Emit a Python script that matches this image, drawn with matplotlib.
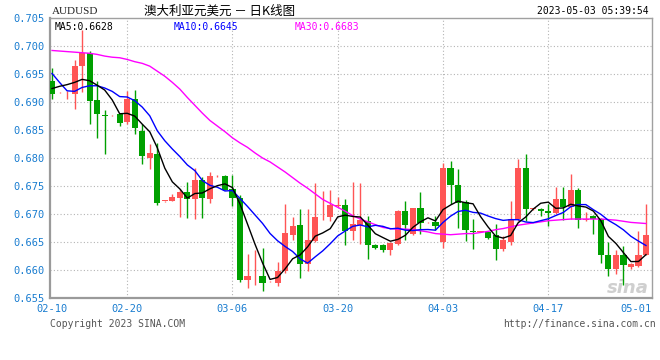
import numpy as np
import pandas as pd
import matplotlib
matplotlib.use('Agg')
from matplotlib import pyplot as plt

# daily bars AUDUSD, 02-10 .. 05-01 (one bar per calendar day, as on the sina chart)
opens = [0.6937, 0.6917, 0.6917, 0.6914, 0.6965, 0.6988, 0.6903, 0.6876, 0.6876, 0.6878,
         0.6864, 0.6906, 0.6848, 0.6800, 0.6807, 0.6723, 0.6724, 0.6729, 0.6739, 0.6726,
         0.6761, 0.6727, 0.6767, 0.6768, 0.6745, 0.6729, 0.6582, 0.6587, 0.6590, 0.6580,
         0.6576, 0.6598, 0.6663, 0.6681, 0.6611, 0.6652, 0.6694, 0.6694, 0.6714, 0.6716,
         0.6669, 0.6681, 0.6688, 0.6645, 0.6645, 0.6635, 0.6647, 0.6706, 0.6665, 0.6710,
         0.6685, 0.6685, 0.6650, 0.6782, 0.6752, 0.6721, 0.6670, 0.6668, 0.6668, 0.6662,
         0.6638, 0.6650, 0.6691, 0.6782, 0.6709, 0.6709, 0.6705, 0.6702, 0.6727, 0.6712,
         0.6743, 0.6690, 0.6697, 0.6691, 0.6627, 0.6602, 0.6627, 0.6605, 0.6608, 0.6626]
highs = [0.6961, 0.6918, 0.6919, 0.6975, 0.7028, 0.6991, 0.6937, 0.6886, 0.6877, 0.6880,
         0.6920, 0.6921, 0.6860, 0.6825, 0.6826, 0.6724, 0.6736, 0.6744, 0.6758, 0.6783,
         0.6766, 0.6775, 0.6769, 0.6769, 0.6770, 0.6734, 0.6629, 0.6635, 0.6640, 0.6581,
         0.6615, 0.6718, 0.6695, 0.6709, 0.6709, 0.6755, 0.6741, 0.6742, 0.6730, 0.6727,
         0.6758, 0.6755, 0.6697, 0.6646, 0.6646, 0.6650, 0.6707, 0.6724, 0.6711, 0.6740,
         0.6686, 0.6697, 0.6791, 0.6795, 0.6780, 0.6725, 0.6691, 0.6669, 0.6668, 0.6682,
         0.6660, 0.6724, 0.6798, 0.6807, 0.6710, 0.6710, 0.6718, 0.6748, 0.6748, 0.6771,
         0.6746, 0.6703, 0.6698, 0.6692, 0.6650, 0.6635, 0.6643, 0.6612, 0.6669, 0.6718]
lows = [0.6905, 0.6916, 0.6905, 0.6887, 0.6917, 0.6860, 0.6835, 0.6807, 0.6875, 0.6858,
        0.6860, 0.6843, 0.6789, 0.6780, 0.6716, 0.6722, 0.6723, 0.6694, 0.6693, 0.6691,
        0.6693, 0.6719, 0.6766, 0.6742, 0.6714, 0.6579, 0.6567, 0.6573, 0.6562, 0.6579,
        0.6572, 0.6595, 0.6653, 0.6586, 0.6599, 0.6650, 0.6690, 0.6688, 0.6713, 0.6645,
        0.6654, 0.6647, 0.6620, 0.6638, 0.6632, 0.6627, 0.6644, 0.6653, 0.6662, 0.6665,
        0.6684, 0.6671, 0.6640, 0.6718, 0.6675, 0.6651, 0.6638, 0.6667, 0.6656, 0.6617,
        0.6634, 0.6644, 0.6688, 0.6688, 0.6708, 0.6696, 0.6679, 0.6700, 0.6690, 0.6691,
        0.6675, 0.6688, 0.6665, 0.6613, 0.6589, 0.6592, 0.6573, 0.6602, 0.6605, 0.6626]
closes = [0.6914, 0.6918, 0.6918, 0.6965, 0.6987, 0.6902, 0.6878, 0.6875, 0.6877, 0.6863,
          0.6906, 0.6853, 0.6803, 0.6809, 0.6720, 0.6724, 0.6731, 0.6740, 0.6727, 0.6761,
          0.6729, 0.6768, 0.6768, 0.6743, 0.6728, 0.6582, 0.6589, 0.6588, 0.6576, 0.6581,
          0.6599, 0.6666, 0.6678, 0.6611, 0.6653, 0.6694, 0.6695, 0.6716, 0.6716, 0.6669,
          0.6682, 0.6690, 0.6644, 0.6639, 0.6635, 0.6649, 0.6706, 0.6681, 0.6710, 0.6684,
          0.6685, 0.6678, 0.6782, 0.6751, 0.6719, 0.6671, 0.6668, 0.6668, 0.6658, 0.6638,
          0.6653, 0.6691, 0.6782, 0.6709, 0.6709, 0.6705, 0.6701, 0.6727, 0.6712, 0.6742,
          0.6690, 0.6691, 0.6691, 0.6626, 0.6602, 0.6627, 0.6609, 0.6611, 0.6627, 0.6663]

# MA30 (history before 02-10 not shown)
ma30 = [0.6992, 0.6991, 0.6990, 0.6989, 0.6988, 0.6987, 0.6985, 0.6982, 0.6980, 0.6979,
        0.6976, 0.6972, 0.6969, 0.6964, 0.6955, 0.6946, 0.6935, 0.6923, 0.6908, 0.6894,
        0.6880, 0.6867, 0.6857, 0.6847, 0.6836, 0.6827, 0.6819, 0.6809, 0.6800, 0.6793,
        0.6784, 0.6775, 0.6765, 0.6755, 0.6746, 0.6736, 0.6726, 0.6719, 0.6712, 0.6705,
        0.6697, 0.6691, 0.6686, 0.6681, 0.6676, 0.6674, 0.6673, 0.6673, 0.6672, 0.6670,
        0.6668, 0.6665, 0.6664, 0.6663, 0.6664, 0.6665, 0.6665, 0.6667, 0.6669, 0.6672,
        0.6674, 0.6677, 0.6680, 0.6682, 0.6684, 0.6686, 0.6688, 0.6689, 0.6690, 0.6691,
        0.6691, 0.6691, 0.6691, 0.6691, 0.6690, 0.6689, 0.6687, 0.6685, 0.6684, 0.6683]
# first MA5 / MA10 points (need closes before 02-10)
ma5_head = [0.6924, 0.6928, 0.6931, 0.6935]
ma10_head = [0.6951, 0.6935, 0.6920, 0.6919, 0.6926, 0.6929, 0.6929, 0.6925, 0.6919]
# values printed in the MA legend
ma_names = ['MA5', 'MA10', 'MA30']
ma_last = [0.6628, 0.6645, 0.6683]

date_ticks = [0, 10, 24, 38, 52, 66, 79.8]
date_labels = ['02-10', '02-20', '03-06', '03-20', '04-03', '04-17', '05-01']
price_ticks = [0.655, 0.660, 0.665, 0.670, 0.675, 0.680, 0.685, 0.690, 0.695, 0.700, 0.705]

RED = '#ff5555'
GREEN = '#00a000'
BLUE_TXT = '#1a7dd0'
MA_COLORS = ['black', '#0000ff', '#ff00ff']

plt.rcParams['font.family'] = ['DejaVu Sans Mono']

o = np.array(opens)
h = np.array(highs)
l = np.array(lows)
c = np.array(closes)
x = np.arange(len(c))

ma5 = pd.Series(c).rolling(5).mean().values
ma5[:len(ma5_head)] = ma5_head
ma10 = pd.Series(c).rolling(10).mean().values
ma10[:len(ma10_head)] = ma10_head

fig = plt.figure(figsize=(6.6, 3.6), dpi=100)
ax = fig.add_axes([50 / 660, 62 / 360, 602 / 660, 280 / 360])

# grid
for t in price_ticks[1:-1]:
    ax.axhline(t, color='#b4b4b4', lw=0.8, ls=(0, (1, 2)), zorder=0)
for t in date_ticks[1:-1]:
    ax.axvline(t, color='#b4b4b4', lw=0.8, ls=(0, (1, 2)), zorder=0)

# candles
up = c >= o
cols = np.where(up, RED, GREEN)
ax.vlines(x, l, h, colors=cols, lw=1, zorder=2)
body = np.maximum(np.abs(c - o), 0.00012)
ax.bar(x, body, bottom=np.minimum(o, c), width=0.82, color=cols, lw=0, zorder=3)

# moving averages
ax.plot(x, ma30, color=MA_COLORS[2], lw=1, zorder=4)
ax.plot(x, ma10, color=MA_COLORS[1], lw=1, zorder=4)
ax.plot(x, ma5, color=MA_COLORS[0], lw=1, zorder=4)

ax.set_xlim(-0.27, 79.8)
ax.set_ylim(0.655, 0.705)
ax.set_yticks(price_ticks)
ax.set_yticklabels(['%.3f' % t for t in price_ticks])
ax.set_xticks(date_ticks)
ax.set_xticklabels(date_labels)
ax.get_xticklabels()[-1].set_ha('right')
ax.tick_params(length=0, labelsize=7.5, colors=BLUE_TXT, pad=4)

for s in ['top', 'right']:
    ax.spines[s].set_color('#a0a0a0')
    ax.spines[s].set_linewidth(1)
for s in ['left', 'bottom']:
    ax.spines[s].set_color('#9a9a9a')
    ax.spines[s].set_linewidth(1.6)

# MA legend inside
for xpos, name, val, col in zip([0.008, 0.206, 0.407], ma_names, ma_last, MA_COLORS):
    ax.text(xpos, 0.985, '%s:%.4f' % (name, val), transform=ax.transAxes, fontsize=7,
            color=col, va='top', ha='left')

# sina watermark
ax.text(0.995, 0.005, 'sina', transform=ax.transAxes, fontsize=13, style='italic',
        weight='bold', color='#cfcfcf', ha='right', va='bottom', family='DejaVu Sans', zorder=1)

# header / footer
fig.text(52 / 660, 1 - 11 / 360, 'AUDUSD', fontsize=8, family=['Liberation Serif'],
         va='center', ha='left', color='#222222')
fig.text(220 / 660, 1 - 11 / 360, '澳大利亚元美元 － 日K线图', fontsize=9,
         family=['Noto Sans CJK SC', 'DejaVu Sans'], va='center', ha='center', color='black')
fig.text(649 / 660, 1 - 11 / 360, '2023-05-03 05:39:54', fontsize=7, va='center',
         ha='right', color='black')
fig.text(50 / 660, 1 - 324 / 360, 'Copyright 2023 SINA.COM', fontsize=7, va='center',
         ha='left', color='#555555')
fig.text(656 / 660, 1 - 324 / 360, 'http://finance.sina.com.cn', fontsize=7, va='center',
         ha='right', color='#555555')

fig.savefig('out.png', dpi=100)
